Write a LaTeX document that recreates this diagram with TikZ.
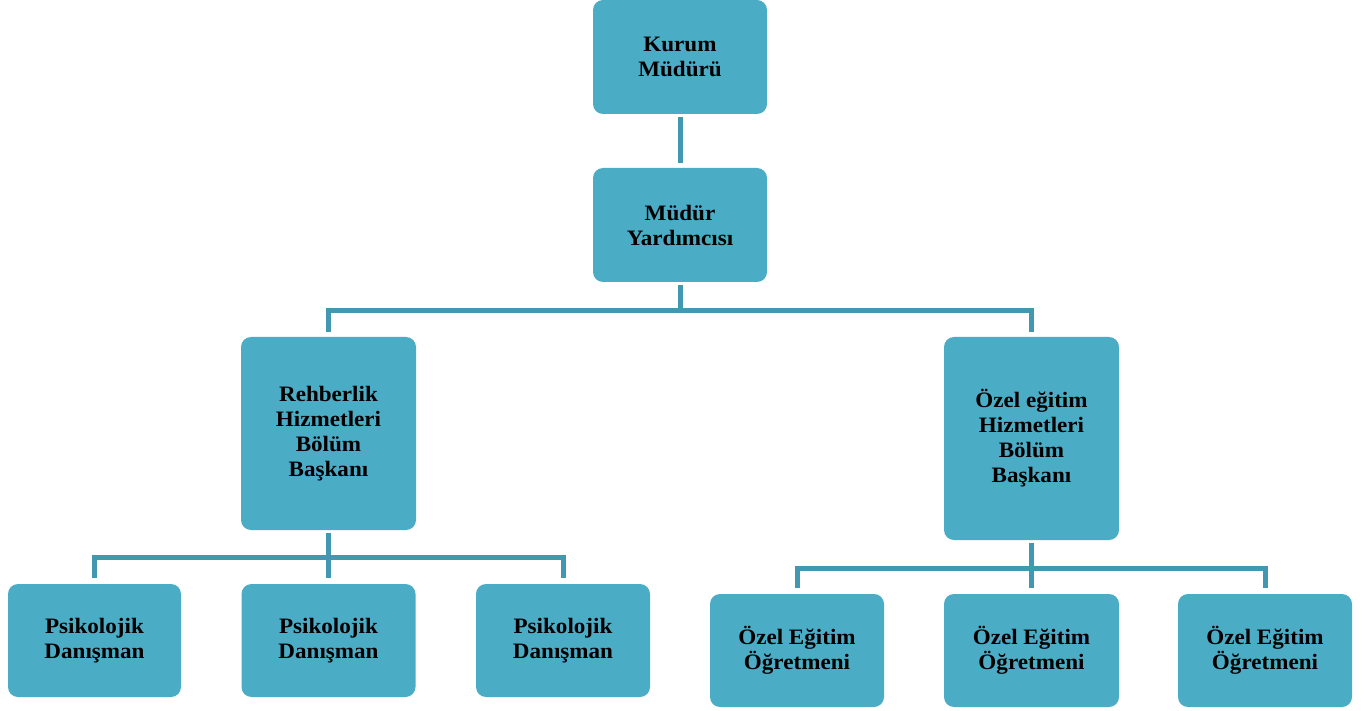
\documentclass[tikz,border=0pt]{standalone}
\usepackage{fontspec}
\setmainfont{Liberation Serif}[FakeStretch=1.05]
\definecolor{boxblue}{RGB}{75,172,198}
\definecolor{lineblue}{RGB}{66,152,176}
\tikzset{
  unit/.style={fill=boxblue,rounded corners=10pt,align=center,inner sep=0pt,
    font=\fontsize{22}{25}\selectfont\bfseries},
  link/.style={draw=lineblue,line width=5pt}
}
\begin{document}
\begin{tikzpicture}[x=1pt,y=-1pt]
  \useasboundingbox (0,0) rectangle (1369,711);
  \node [unit,minimum width=174pt,minimum height=114pt] (kurum) at (680,57) {Kurum\\Müdürü};
  \node [unit,minimum width=174pt,minimum height=114pt] (yard) at (680,225) {Müdür\\Yardımcısı};
  \node [unit,minimum width=175pt,minimum height=193pt] (rehber) at (328.5,433.5) {Rehberlik\\Hizmetleri\\Bölüm\\Başkanı};
  \node [unit,minimum width=175pt,minimum height=203pt] (ozel) at (1031.5,438.5) {Özel eğitim\\Hizmetleri\\Bölüm\\Başkanı};

  \node [unit,minimum width=173pt,minimum height=113pt] (psi1) at (94.5,640.5) {Psikolojik\\Danışman};
  \node [unit,minimum width=174pt,minimum height=113pt] (psi2) at (328.5,640.5) {Psikolojik\\Danışman};
  \node [unit,minimum width=174pt,minimum height=113pt] (psi3) at (563,640.5) {Psikolojik\\Danışman};

  \node [unit,minimum width=174pt,minimum height=113pt] (ogr1) at (797,650.5) {Özel Eğitim\\Öğretmeni};
  \node [unit,minimum width=175pt,minimum height=113pt] (ogr2) at (1031.5,650.5) {Özel Eğitim\\Öğretmeni};
  \node [unit,minimum width=174pt,minimum height=113pt] (ogr3) at (1265,650.5) {Özel Eğitim\\Öğretmeni};

  \draw [link,shorten <=3pt,shorten >=5pt] (kurum) -- (yard);
  \draw [link,shorten <=3pt,shorten >=5pt] (yard.south) -- ++(0,28) -| (rehber.north);
  \draw [link,shorten <=3pt,shorten >=5pt] (yard.south) -- ++(0,28) -| (ozel.north);

  \draw [link,shorten <=3pt,shorten >=6pt] (rehber.south) -- ++(0,27) -| (psi1.north);
  \draw [link,shorten <=3pt,shorten >=6pt] (rehber) -- (psi2);
  \draw [link,shorten <=3pt,shorten >=6pt] (rehber.south) -- ++(0,27) -| (psi3.north);

  \draw [link,shorten <=3pt,shorten >=6pt] (ozel.south) -- ++(0,28) -| (ogr1.north);
  \draw [link,shorten <=3pt,shorten >=6pt] (ozel) -- (ogr2);
  \draw [link,shorten <=3pt,shorten >=6pt] (ozel.south) -- ++(0,28) -| (ogr3.north);

\end{tikzpicture}
\end{document}
